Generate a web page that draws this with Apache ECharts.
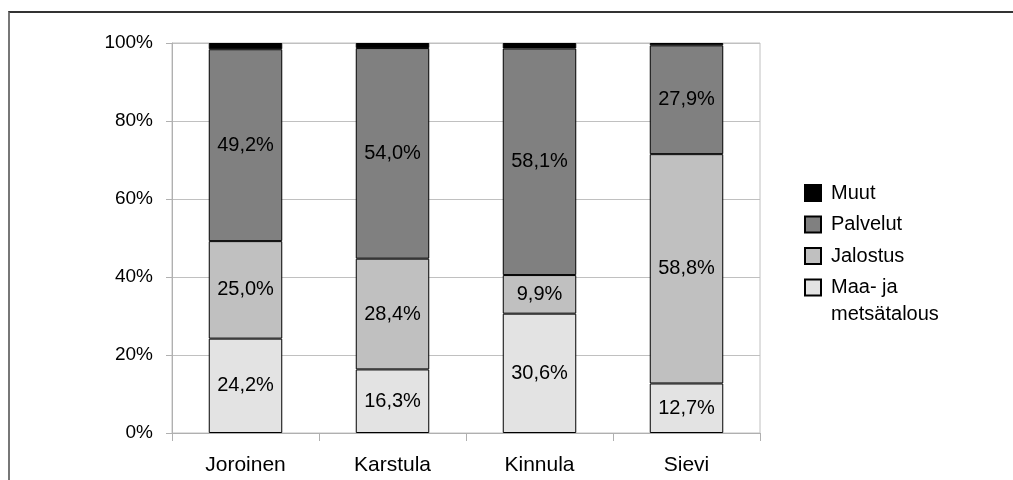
<!DOCTYPE html>
<html>
<head>
<meta charset="utf-8">
<script src="https://cdn.jsdelivr.net/npm/echarts@6/dist/echarts.min.js"></script>
<style>
  html, body { margin: 0; padding: 0; background: #fff; }
  #frame { position: absolute; left: 8px; top: 11px; width: 1005px; height: 469px;
           border-top: 2px solid #333; border-left: 2px solid #777; }
  #chart { position: absolute; left: 0; top: 0; width: 1013px; height: 480px; }
</style>
</head>
<body>
<div id="frame"></div>
<div id="chart"></div>
<script>
// kunnat
var categories = ['Joroinen', 'Karstula', 'Kinnula', 'Sievi'];
var yTicks = ['0%', '20%', '40%', '60%', '80%', '100%'];

// osuudet (%)
var maaJaMetsa = [24.2, 16.3, 30.6, 12.7];
var jalostus = [25.0, 28.4, 9.9, 58.8];
var palvelut = [49.2, 54.0, 58.1, 27.9];
var muut = [1.6, 1.3, 1.4, 0.6];

var font = 'Liberation Sans, Arial, sans-serif';

function pct(v) {
  return v.toFixed(1).replace('.', ',') + '%';
}

function bar(name, data, color, showLabel) {
  return {
    name: name,
    type: 'bar',
    stack: 'tot',
    barWidth: '50%',
    data: data,
    itemStyle: { color: color, borderColor: '#000', borderWidth: 1 },
    label: {
      show: showLabel,
      position: 'inside',
      color: '#000',
      fontFamily: font,
      fontSize: 20,
      formatter: function (p) { return pct(p.value); }
    },
    emphasis: { disabled: true }
  };
}

var legendText = { fontSize: 20, color: '#000', fontFamily: font, padding: [0, 0, 0, 5] };

var chart = echarts.init(document.getElementById('chart'));
chart.setOption({
  animation: false,
  textStyle: { fontFamily: font },
  grid: {
    left: 172, right: 253, top: 43, bottom: 47,
    show: true, borderColor: '#c0c0c0', borderWidth: 1
  },
  legend: [{
    orient: 'vertical',
    left: 804,
    top: 181,
    padding: 0,
    icon: 'rect',
    itemWidth: 16,
    itemHeight: 16,
    itemGap: 7.5,
    data: ['Muut', 'Palvelut', 'Jalostus'],
    textStyle: Object.assign({ lineHeight: 24 }, legendText),
    selectedMode: false
  }, {
    orient: 'vertical',
    left: 804,
    top: 247,
    padding: 0,
    icon: 'rect',
    itemWidth: 16,
    itemHeight: 16,
    data: ['Maa- ja metsätalous'],
    // tyhjä rivi alkuun, jotta ikoni osuu ensimmäisen rivin kohdalle
    formatter: function () { return ' \nMaa- ja\nmetsätalous'; },
    textStyle: Object.assign({ lineHeight: 27 }, legendText),
    selectedMode: false
  }],
  xAxis: {
    type: 'category',
    data: categories,
    axisLine: { lineStyle: { color: '#b0b0b0', width: 1 } },
    axisTick: { show: true, length: 8, lineStyle: { color: '#b0b0b0' } },
    axisLabel: { color: '#000', fontSize: 21, margin: 22, fontFamily: font }
  },
  yAxis: {
    type: 'value',
    min: 0,
    max: 100,
    interval: 20,
    axisLine: { show: true, lineStyle: { color: '#b0b0b0' } },
    axisTick: { show: true, length: 6, lineStyle: { color: '#b0b0b0' } },
    splitLine: { lineStyle: { color: '#c0c0c0' } },
    axisLabel: {
      color: '#000', fontSize: 19, margin: 19, fontFamily: font,
      formatter: function (v) { return yTicks[v / 20]; }
    }
  },
  series: [
    bar('Maa- ja metsätalous', maaJaMetsa, '#e3e3e3', true),
    bar('Jalostus', jalostus, '#c0c0c0', true),
    bar('Palvelut', palvelut, '#808080', true),
    bar('Muut', muut, '#000000', false)
  ]
});
</script>
</body>
</html>
